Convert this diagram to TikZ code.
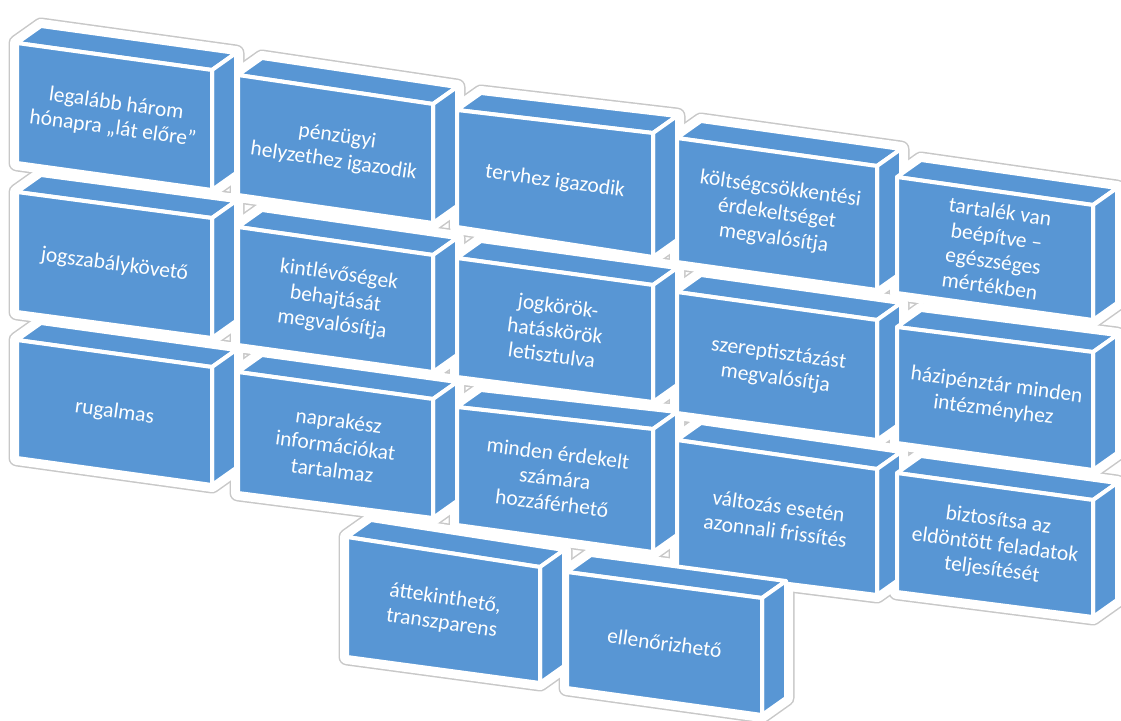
\documentclass[tikz,border=0pt]{standalone}
\usepackage{fontspec}
\setmainfont{Carlito}
\usepackage{tikz}
\usetikzlibrary{calc}

\definecolor{brickblue}{RGB}{88,150,212}
\definecolor{halogray}{RGB}{200,200,200}

\pgfdeclarelayer{halo}
\pgfdeclarelayer{gap}
\pgfsetlayers{halo,gap,main}

\tikzset{
  face/.style={fill=brickblue,draw=white,line width=4pt,line join=round},
  halo line/.style={draw=halogray,line width=17pt,line join=round},
  gap fill/.style={fill=white,draw=white,line width=14pt,line join=round},
  brick text/.style={text=white,align=center,inner sep=0pt,
    font=\fontsize{21.5}{25}\selectfont},
}

% one brick: name, front corners tl/tr/br/bl, text
\newcommand{\brick}[6]{%
  \coordinate (#1-tl) at (#2);
  \coordinate (#1-tr) at (#3);
  \coordinate (#1-br) at (#4);
  \coordinate (#1-bl) at (#5);
  \coordinate (#1-btl) at ($(#1-tl)+(24,-17)$);
  \coordinate (#1-btr) at ($(#1-tr)+(24,-17)$);
  \coordinate (#1-bbr) at ($(#1-br)+(24,-17)$);
  \begin{pgfonlayer}{halo}
    \path[halo line] (#1-bl) -- (#1-tl) -- (#1-btl) -- (#1-btr) -- (#1-bbr) -- (#1-br) -- cycle;
  \end{pgfonlayer}
  \begin{pgfonlayer}{gap}
    \path[gap fill] (#1-bl) -- (#1-tl) -- (#1-btl) -- (#1-btr) -- (#1-bbr) -- (#1-br) -- cycle;
  \end{pgfonlayer}
  \path[face] (#1-tl) -- (#1-tr) -- (#1-btr) -- (#1-btl) -- cycle; % top
  \path[face] (#1-tr) -- (#1-btr) -- (#1-bbr) -- (#1-br) -- cycle; % side
  \path[face] (#1-tl) -- (#1-tr) -- (#1-br) -- (#1-bl) -- cycle;   % front
  \path ($(#1-tl)!.5!(#1-bl)$) -- ($(#1-tr)!.5!(#1-br)$)
    node[midway,sloped,brick text] (#1) {#6};
}

\begin{document}
\begin{tikzpicture}[x=1pt,y=-1pt]
  \useasboundingbox (0,0) rectangle (1121,720);

  % first column
  \brick{legalabb}{17,43}{212,70}{212,190}{17,163}{legalább három\\hónapra „lát előre”}
  \brick{jogszabaly}{17,192}{212,218}{212,338}{17,312}{jogszabálykövető}
  \brick{rugalmas}{17,340}{212,367}{212,485}{17,458}{rugalmas}

  % second column
  \brick{penzugyi}{238,75}{433,104}{433,223}{238,195}{pénzügyi\\helyzethez igazodik}
  \brick{kintlevoseg}{238,227}{433,255}{433,372}{238,345}{kintlévőségek\\behajtását\\megvalósítja}
  \brick{naprakesz}{238,372}{433,399}{433,518}{238,493}{naprakész\\információkat\\tartalmaz}

  % third column
  \brick{tervhez}{457,110}{653,133}{653,257}{457,227}{tervhez igazodik}
  \brick{jogkorok}{457,258}{653,285}{653,402}{457,377}{jogkörök-\\hatáskörök\\letisztulva}
  \brick{minden}{457,407}{653,429}{653,552}{457,525}{minden érdekelt\\számára\\hozzáférhető}

  % fourth column
  \brick{koltseg}{677,138}{877,166}{877,290}{677,262}{költségcsökkentési\\érdekeltséget\\megvalósítja}
  \brick{szerep}{677,292}{877,320}{877,440}{677,413}{szereptisztázást\\megvalósítja}
  \brick{valtozas}{677,440}{877,469}{877,595}{677,570}{változás esetén\\azonnali frissítés}

  % fifth column
  \brick{tartalek}{897,177}{1093,205}{1093,320}{897,293}{tartalék van\\beépítve –\\egészséges\\mértékben}
  \brick{hazipenztar}{897,327}{1093,352}{1093,470}{897,443}{házipénztár minden\\intézményhez}
  \brick{biztositsa}{897,473}{1093,500}{1093,617}{897,592}{biztosítsa az\\eldöntött feladatok\\teljesítését}

  % bottom row
  \brick{attekintheto}{347,537}{540,567}{540,683}{347,657}{áttekinthető,\\transzparens}
  \brick{ellenorizheto}{567,572}{762,598}{762,715}{567,688}{ellenőrizhető}
\end{tikzpicture}
\end{document}
